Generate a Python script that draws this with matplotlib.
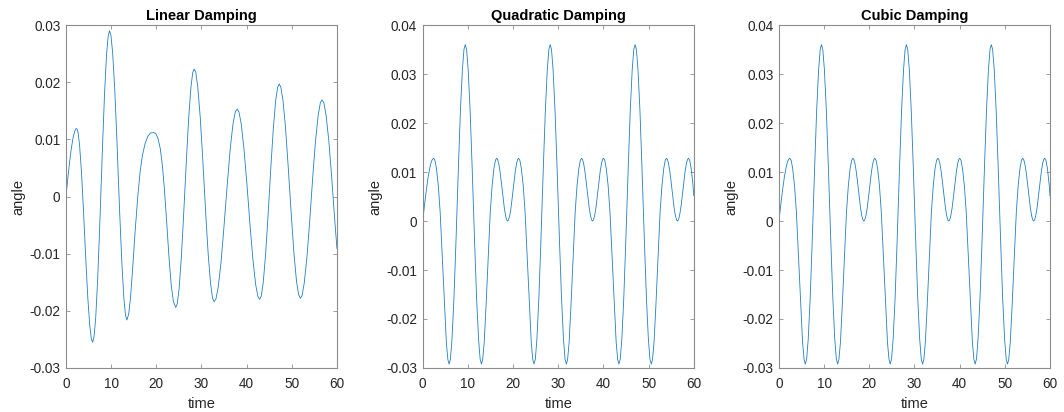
import matplotlib.pyplot as plt

plt.rcParams['font.family'] = ['Liberation Sans', 'DejaVu Sans']
plt.rcParams['axes.unicode_minus'] = False

# values, one line per half swing
time_linear = [
    0, 0.4, 0.8, 1.2, 1.6, 1.9, 2.15, 2.38,
    2.66, 3.01, 3.44, 3.86, 4.42, 4.84, 5.27, 5.62, 5.90,
    6.20, 6.58, 7.03, 7.48, 8.08, 8.53, 8.98, 9.35, 9.65,
    9.96, 10.34, 10.81, 11.27, 11.88, 12.35, 12.81, 13.19, 13.5,
    13.9, 14.3, 14.8, 15.3, 15.9, 16.4, 16.9, 17.5, 18.1, 18.7, 19.4,
    19.9, 20.4, 20.9, 21.4, 21.8, 22.3, 22.8, 23.3, 23.8, 24.3,
    24.63, 25.04, 25.53, 26.02, 26.68, 27.17, 27.66, 28.07, 28.4,
    28.75, 29.19, 29.72, 30.25, 30.95, 31.48, 32.01, 32.45, 32.8,
    33.21, 33.72, 34.33, 34.94, 35.76, 36.37, 36.98, 37.49, 37.9,
    38.30, 38.80, 39.40, 40.00, 40.80, 41.40, 42.00, 42.50, 42.9,
    43.24, 43.67, 44.19, 44.71, 45.39, 45.91, 46.43, 46.86, 47.2,
    47.58, 48.05, 48.61, 49.17, 49.93, 50.49, 51.05, 51.52, 51.9,
    52.28, 52.76, 53.34, 53.92, 54.68, 55.26, 55.84, 56.32, 56.7,
    57.10, 57.59, 58.19, 58.78, 59.57, 60.0,
]
angle_linear = [
    0, 0.0031, 0.0060, 0.0085, 0.0104, 0.0113, 0.0118, 0.0119,
    0.0113, 0.0090, 0.0042, -0.0022, -0.0115, -0.0178, -0.0226, -0.0249, -0.0255,
    -0.0246, -0.0213, -0.0143, -0.0050, 0.0085, 0.0178, 0.0248, 0.0281, 0.0290,
    0.0282, 0.0251, 0.0186, 0.0100, -0.0026, -0.0112, -0.0177, -0.0208, -0.0216,
    -0.0205, -0.0176, -0.0122, -0.0062, 0.0000, 0.0042, 0.0071, 0.0092, 0.0105, 0.0111, 0.0112,
    0.0110, 0.0101, 0.0083, 0.0050, 0.0012, -0.0045, -0.0105, -0.0155, -0.0184, -0.0194,
    -0.0188, -0.0162, -0.0108, -0.0037, 0.0066, 0.0137, 0.0191, 0.0217, 0.0223,
    0.0217, 0.0191, 0.0139, 0.0070, -0.0031, -0.0100, -0.0152, -0.0178, -0.0184,
    -0.0179, -0.0158, -0.0115, -0.0057, 0.0026, 0.0084, 0.0127, 0.0148, 0.0153,
    0.0148, 0.0127, 0.0084, 0.0028, -0.0055, -0.0111, -0.0154, -0.0175, -0.0180,
    -0.0174, -0.0151, -0.0102, -0.0038, 0.0055, 0.0119, 0.0168, 0.0191, 0.0197,
    0.0191, 0.0168, 0.0120, 0.0056, -0.0037, -0.0101, -0.0149, -0.0172, -0.0178,
    -0.0173, -0.0151, -0.0107, -0.0048, 0.0039, 0.0098, 0.0142, 0.0164, 0.0169,
    0.0164, 0.0142, 0.0098, 0.0039, -0.0048, -0.0091,
]

time_quadratic = [
    0, 0.4, 0.8, 1.2, 1.6, 1.9, 2.15, 2.43,
    2.70, 3.04, 3.45, 3.86, 4.41, 4.82, 5.23, 5.57, 5.84,
    6.13, 6.48, 6.91, 7.34, 7.92, 8.35, 8.78, 9.13, 9.42,
    9.71, 10.06, 10.49, 10.92, 11.50, 11.93, 12.36, 12.71, 13.0,
    13.27, 13.61, 14.01, 14.42, 14.95, 15.36, 15.76, 16.10, 16.37,
    16.56, 16.81, 17.10, 17.39, 17.78, 18.07, 18.36, 18.61, 18.8,
    18.99, 19.24, 19.53, 19.82, 20.21, 20.50, 20.79, 21.04, 21.23,
    21.50, 21.84, 22.25, 22.66, 23.21, 23.62, 24.03, 24.37, 24.64,
    24.93, 25.28, 25.71, 26.14, 26.72, 27.15, 27.58, 27.93, 28.22,
    28.51, 28.86, 29.29, 29.72, 30.30, 30.73, 31.16, 31.51, 31.80,
    32.07, 32.41, 32.81, 33.22, 33.75, 34.16, 34.56, 34.90, 35.17,
    35.36, 35.61, 35.90, 36.19, 36.58, 36.87, 37.16, 37.41, 37.60,
    37.79, 38.04, 38.33, 38.62, 39.01, 39.30, 39.59, 39.84, 40.03,
    40.30, 40.64, 41.05, 41.46, 42.01, 42.42, 42.83, 43.17, 43.44,
    43.73, 44.08, 44.51, 44.94, 45.52, 45.95, 46.38, 46.73, 47.02,
    47.31, 47.66, 48.09, 48.52, 49.10, 49.53, 49.96, 50.31, 50.60,
    50.87, 51.21, 51.61, 52.02, 52.55, 52.96, 53.36, 53.70, 53.97,
    54.16, 54.41, 54.70, 54.99, 55.38, 55.67, 55.96, 56.21, 56.40,
    56.59, 56.84, 57.13, 57.42, 57.81, 58.10, 58.39, 58.64, 58.83,
    59.10, 59.44, 59.85, 60.0,
]
angle_quadratic = [
    0, 0.0033, 0.0063, 0.0090, 0.0110, 0.0121, 0.0126, 0.0128,
    0.0124, 0.0107, 0.0072, 0.0018, -0.0090, -0.0175, -0.0248, -0.0283, -0.0292,
    -0.0282, -0.0241, -0.0158, -0.0047, 0.0115, 0.0226, 0.0309, 0.0350, 0.0360,
    0.0350, 0.0309, 0.0226, 0.0115, -0.0047, -0.0158, -0.0241, -0.0282, -0.0292,
    -0.0283, -0.0248, -0.0175, -0.0090, 0.0018, 0.0072, 0.0107, 0.0124, 0.0128,
    0.0126, 0.0118, 0.0102, 0.0080, 0.0048, 0.0026, 0.0010, 0.0002, 0.0,
    0.0002, 0.0010, 0.0026, 0.0048, 0.0080, 0.0102, 0.0118, 0.0126, 0.0128,
    0.0124, 0.0107, 0.0072, 0.0018, -0.0090, -0.0175, -0.0248, -0.0283, -0.0292,
    -0.0282, -0.0241, -0.0158, -0.0047, 0.0115, 0.0226, 0.0309, 0.0350, 0.0360,
    0.0350, 0.0309, 0.0226, 0.0115, -0.0047, -0.0158, -0.0241, -0.0282, -0.0292,
    -0.0283, -0.0248, -0.0175, -0.0090, 0.0018, 0.0072, 0.0107, 0.0124, 0.0128,
    0.0126, 0.0118, 0.0102, 0.0080, 0.0048, 0.0026, 0.0010, 0.0002, 0.0,
    0.0002, 0.0010, 0.0026, 0.0048, 0.0080, 0.0102, 0.0118, 0.0126, 0.0128,
    0.0124, 0.0107, 0.0072, 0.0018, -0.0090, -0.0175, -0.0248, -0.0283, -0.0292,
    -0.0282, -0.0241, -0.0158, -0.0047, 0.0115, 0.0226, 0.0309, 0.0350, 0.0360,
    0.0350, 0.0309, 0.0226, 0.0115, -0.0047, -0.0158, -0.0241, -0.0282, -0.0292,
    -0.0283, -0.0248, -0.0175, -0.0090, 0.0018, 0.0072, 0.0107, 0.0124, 0.0128,
    0.0126, 0.0118, 0.0102, 0.0080, 0.0048, 0.0026, 0.0010, 0.0002, 0.0,
    0.0002, 0.0010, 0.0026, 0.0048, 0.0080, 0.0102, 0.0118, 0.0126, 0.0128,
    0.0124, 0.0107, 0.0072, 0.0052,
]

# the cubic trace reads the same as the quadratic one in the picture
time_cubic = list(time_quadratic)
angle_cubic = list(angle_quadratic)

titles = ['Linear Damping', 'Quadratic Damping', 'Cubic Damping']
x_ticks = [0, 10, 20, 30, 40, 50, 60]
y_ticks_linear = [-0.03, -0.02, -0.01, 0, 0.01, 0.02, 0.03]
y_labels_linear = ['-0.03', '-0.02', '-0.01', '0', '0.01', '0.02', '0.03']
y_ticks_other = [-0.03, -0.02, -0.01, 0, 0.01, 0.02, 0.03, 0.04]
y_labels_other = ['-0.03', '-0.02', '-0.01', '0', '0.01', '0.02', '0.03', '0.04']

series = [
    (time_linear, angle_linear, (-0.03, 0.03), y_ticks_linear, y_labels_linear),
    (time_quadratic, angle_quadratic, (-0.03, 0.04), y_ticks_other, y_labels_other),
    (time_cubic, angle_cubic, (-0.03, 0.04), y_ticks_other, y_labels_other),
]
lefts = [0.0620, 0.3973, 0.7321]

fig = plt.figure(figsize=(10.64, 4.12), dpi=100)

for left, title, (t, y, ylim, yt, yl) in zip(lefts, titles, series):
    ax = fig.add_axes([left, 0.1068, 0.2547, 0.8325])
    ax.plot(t, y, color='#1f7fc4', lw=0.6)
    ax.set_xlim(0, 60)
    ax.set_ylim(*ylim)
    ax.set_xticks(x_ticks)
    ax.set_yticks(yt)
    ax.set_yticklabels(yl)
    ax.tick_params(direction='in', top=True, right=True, length=3, width=0.6,
                   colors='#8c8c8c', labelcolor='#262626', labelsize=9.8)
    ax.tick_params(axis='x', pad=6.5)
    ax.tick_params(axis='y', pad=4)
    for s in ax.spines.values():
        s.set_color('#8c8c8c')
        s.set_linewidth(0.8)
    ax.set_title(title, fontsize=10.5, fontweight='bold', pad=3.5)
    ax.set_xlabel('time', fontsize=10.5, color='#262626', labelpad=4)
    ax.set_ylabel('angle', fontsize=10.5, color='#262626', labelpad=3)

fig.savefig('out.png', dpi=100)
